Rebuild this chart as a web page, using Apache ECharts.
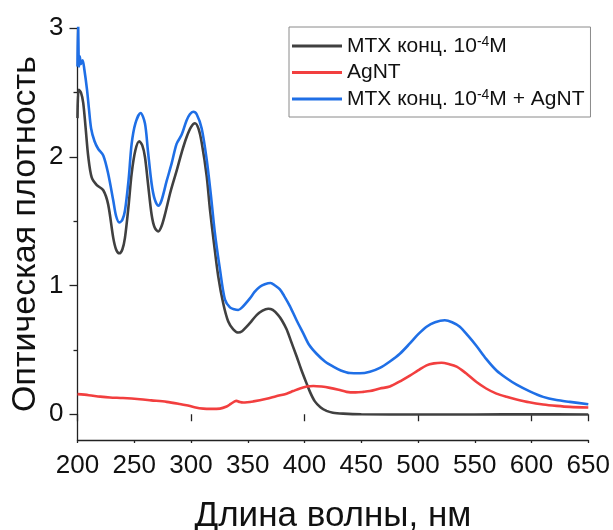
<!DOCTYPE html>
<html>
<head>
<meta charset="utf-8">
<script src="https://cdn.jsdelivr.net/npm/echarts@6/dist/echarts.min.js"></script>
<style>
html,body{margin:0;padding:0;background:#fff;}
#chart{width:613px;height:530px;}
</style>
</head>
<body>
<div id="chart"></div>
<script>
// ---- data ----
const xTickLabels = [200, 250, 300, 350, 400, 450, 500, 550, 600, 650];
const yTickLabels = [0, 1, 2, 3];

const mtxWavelength = [200,201,203,205,207,209.5,212.5,217,222.7,227,231.5,234,236.8,239.5,241.8,245,247.7,251,254.4,257,259.4,262,265.3,268,271.2,274,277,282,287.3,292,296,300,303.5,306.5,309.4,313.8,316.7,320.2,324,328.4,332.8,337.2,341.6,345,349,353,357.8,363,368,372,376.8,380,384.2,388,393,397,401.8,405,409.1,414,419.4,425,434,450,500,550,600,650];
const mtxAbs = [2.30,2.52,2.50,2.42,2.24,2.0,1.84,1.78,1.74,1.63,1.37,1.28,1.25,1.28,1.37,1.62,1.87,2.05,2.12,2.09,2.0,1.80,1.55,1.45,1.42,1.46,1.55,1.73,1.89,2.04,2.15,2.23,2.26,2.22,2.11,1.85,1.59,1.33,1.07,0.86,0.72,0.66,0.635,0.645,0.68,0.72,0.77,0.805,0.82,0.81,0.77,0.73,0.66,0.57,0.45,0.35,0.24,0.17,0.10,0.055,0.026,0.012,0.005,0.0,-0.002,-0.002,0.0,-0.002];

const agWavelength = [200,210,220,228.6,240,255,265,278.5,290,296,303,310.8,318,325.5,331.4,335,338.5,340,343,346,355,366.6,375,384.2,390,396,402,407.7,415,422.3,430,437,445,451.7,457.6,466.4,475.2,485,492.8,500,507.5,514,520.7,527,534,542,551.5,560,569.1,578,586.8,598,610.2,622,633.7,650];
const agAbs = [0.156,0.148,0.137,0.13,0.126,0.117,0.108,0.096,0.08,0.07,0.055,0.044,0.042,0.044,0.06,0.08,0.10,0.104,0.095,0.091,0.10,0.12,0.14,0.16,0.18,0.20,0.215,0.22,0.215,0.205,0.19,0.174,0.17,0.174,0.18,0.20,0.215,0.26,0.30,0.34,0.38,0.395,0.40,0.39,0.37,0.32,0.25,0.20,0.16,0.135,0.115,0.093,0.076,0.065,0.057,0.052];

const mixWavelength = [200,200.5,201.3,202,203,204.5,206,208.4,210,212,215,218.3,222.7,227,231.5,234,236.8,239.5,241.8,245,247.7,251,255.6,259.4,262,265.3,268,271.2,274,278.5,283,287.3,291.7,296,299,302,305,309.4,313.8,317.3,321,325.5,329.9,334.3,338,341.6,345,351.9,356,360.7,365,370.1,374,378.3,382,387.1,393,398.8,404,410.6,418,425.3,432,440,448.8,457.6,466.4,475.2,484,492.8,500,507.5,515,523.6,530,536.8,544,551.5,560,569.1,578,586.8,598,610.2,622,633.7,650];
const mixAbs = [2.70,3.05,2.70,2.78,2.72,2.75,2.68,2.52,2.38,2.22,2.12,2.06,2.01,1.87,1.66,1.54,1.49,1.51,1.58,1.82,2.10,2.26,2.34,2.26,2.05,1.79,1.67,1.62,1.66,1.81,1.95,2.10,2.17,2.28,2.33,2.35,2.33,2.22,1.98,1.72,1.41,1.125,0.89,0.83,0.815,0.81,0.83,0.90,0.95,0.99,1.01,1.02,1.00,0.97,0.92,0.84,0.73,0.63,0.54,0.47,0.41,0.37,0.34,0.32,0.318,0.33,0.36,0.41,0.47,0.55,0.62,0.68,0.715,0.73,0.715,0.68,0.61,0.53,0.43,0.34,0.28,0.23,0.18,0.135,0.11,0.096,0.078];

const seriesNames = ['mtx', 'ag', 'mix'];
const xTitle = 'Длина волны, нм';
const yTitle = 'Оптическая плотность';

function pairs(xs, ys) { return xs.map((x, i) => [x, ys[i]]); }

const FONT = 'Liberation Sans, Arial, sans-serif';
const chart = echarts.init(document.getElementById('chart'), null, {renderer: 'canvas'});

const legendText = {
  mtx: '{n|MTX конц. 10}{s|-4}{n|M}',
  ag: '{n|AgNT}',
  mix: '{n|MTX конц. 10}{s|-4}{n|M + AgNT}'
};

chart.setOption({
  animation: false,
  backgroundColor: '#fff',
  grid: {left: 77.5, right: 24.7, top: 28, bottom: 90, containLabel: false, outerBoundsMode: 'none'},
  legend: {
    orient: 'vertical',
    left: 289, top: 27,
    padding: [8, 6, 7, 3],
    borderColor: '#8a8a8a', borderWidth: 1,
    icon: 'rect',
    itemWidth: 50, itemHeight: 3, itemGap: 5,
    data: seriesNames,
    formatter: name => legendText[name],
    textStyle: {
      fontFamily: FONT, color: '#111',
      rich: {
        n: {fontSize: 21, fontFamily: FONT, color: '#111', lineHeight: 22},
        s: {fontSize: 14, fontFamily: FONT, color: '#111', verticalAlign: 'top', lineHeight: 22, padding: [0, 0, 8, 0]}
      }
    }
  },
  xAxis: [{
    type: 'value', min: 200, max: 650, interval: 50,
    name: xTitle, nameLocation: 'middle', nameGap: 59, nameMoveOverlap: false,
    nameTextStyle: {fontFamily: FONT, fontSize: 35, color: '#111'},
    axisLine: {onZero: false, lineStyle: {color: '#222', width: 1.3}},
    axisTick: {length: 3, lineStyle: {color: '#222', width: 1.3}},
    axisLabel: {fontFamily: FONT, fontSize: 26, color: '#111', margin: 13,
      customValues: xTickLabels},
    splitLine: {show: false}
  }, {
    type: 'value', min: 200, max: 650, position: 'bottom',
    axisLine: {show: false},
    axisTick: {show: true, length: 7, lineStyle: {color: '#222', width: 1.3},
      customValues: [200, 300, 400, 500, 600, 650]},
    axisLabel: {show: false},
    splitLine: {show: false}
  }],
  yAxis: [{
    type: 'value', min: -0.2, max: 3,
    name: yTitle, nameLocation: 'middle', nameGap: 35, nameRotate: 90, nameMoveOverlap: false,
    nameTextStyle: {fontFamily: FONT, fontSize: 34, color: '#111'},
    axisLine: {show: true, onZero: false, lineStyle: {color: '#222', width: 1.3}},
    axisTick: {show: true, length: 8, lineStyle: {color: '#222', width: 1.3},
      customValues: yTickLabels},
    axisLabel: {fontFamily: FONT, fontSize: 26, color: '#111', margin: 14,
      customValues: yTickLabels},
    splitLine: {show: false}
  }, {
    type: 'value', min: -0.2, max: 3, position: 'left',
    axisLine: {show: false},
    axisTick: {show: true, length: 4, lineStyle: {color: '#222', width: 1.3},
      customValues: [0.5, 1.5, 2.5]},
    axisLabel: {show: false},
    splitLine: {show: false}
  }],
  series: [
    {name: 'mtx', type: 'line', data: pairs(mtxWavelength, mtxAbs), showSymbol: false, symbol: 'none',
      smooth: 0.3, lineStyle: {color: '#404040', width: 2.6}, itemStyle: {color: '#404040'}},
    {name: 'ag', type: 'line', data: pairs(agWavelength, agAbs), showSymbol: false, symbol: 'none',
      smooth: 0.3, lineStyle: {color: '#f23f3f', width: 2.6}, itemStyle: {color: '#f23f3f'}},
    {name: 'mix', type: 'line', data: pairs(mixWavelength, mixAbs), showSymbol: false, symbol: 'none',
      smooth: 0.3, lineStyle: {color: '#1f6fe6', width: 2.6}, itemStyle: {color: '#1f6fe6'}}
  ]
});
</script>
</body>
</html>
